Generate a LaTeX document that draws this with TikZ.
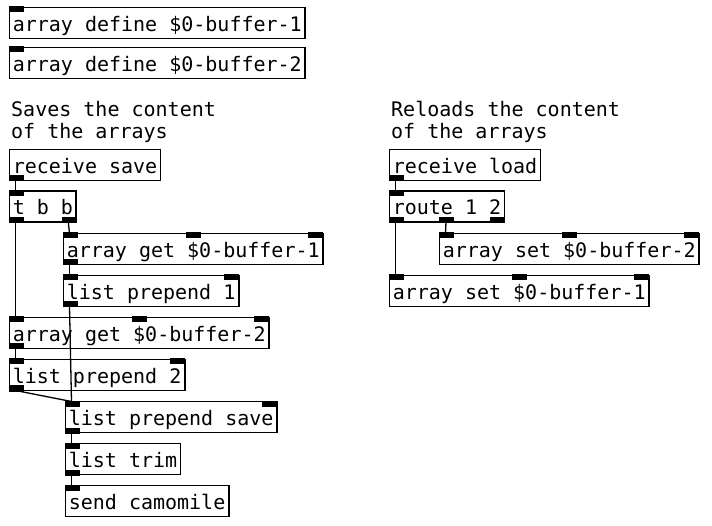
\documentclass[tikz,border=0pt]{standalone}
\usepackage{fontspec}
\newfontfamily\pdfont{DejaVu Sans Mono}
\usetikzlibrary{calc}

% inlets and outlets of a box: #1 box name, #2 inlets, #3 outlets
\newcommand{\pdio}[3]{%
  \ifnum#2>0
    \foreach \k in {1,...,#2}{
      \path let \p1=(#1.north west), \p2=(#1.north east),
        \n1={(\x2-\x1-14pt)*(\k-1)/max(#2-1,1)} in
        (\x1+\n1*1pt+6pt,\y1) coordinate (#1-in\k);
      \fill[iolet] (#1-in\k) ++(-6.5,-1) rectangle ++(15,6);
    }
  \fi
  \ifnum#3>0
    \foreach \k in {1,...,#3}{
      \path let \p1=(#1.south west), \p2=(#1.south east),
        \n1={(\x2-\x1-14pt)*(\k-1)/max(#3-1,1)} in
        (\x1+\n1*1pt+6pt,\y1) coordinate (#1-out\k);
      \fill[iolet] (#1-out\k) ++(-6.5,1) rectangle ++(15,-6);
    }
  \fi
}

\begin{document}
\begin{tikzpicture}
[
x=1pt,y=-1pt,
pdbox/.style={draw,line width=1.8pt,fill=white,anchor=north west,outer sep=0pt,
              inner xsep=3.3pt,inner ysep=0pt,minimum height=31pt,
              text height=18.3pt,text depth=1.7pt,font=\pdfont\fontsize{20}{22}\selectfont},
comment/.style={anchor=north west,inner sep=0pt,align=left,font=\pdfont\fontsize{20}{22}\selectfont},
wire/.style={line width=1.3pt},
iolet/.style={fill=black},
]
\useasboundingbox[fill=white] (0,0) rectangle (712,526);

%Place the nodes
\node[pdbox] (def1) at (9.5,7.5) {array define \$0-buffer-1};
\node[pdbox] (def2) at (9.5,47.5) {array define \$0-buffer-2};
\node[comment] (savenote) at (11,100.8) {Saves the content\\of the arrays};
\node[pdbox] (rsave) at (9.5,149.5) {receive save};
\node[pdbox] (tbb) at (9.5,191) {t b b};
\node[pdbox] (get1) at (63.5,233.5) {array get \$0-buffer-1};
\node[pdbox] (pre1) at (63.5,275.5) {list prepend 1};
\node[pdbox] (get2) at (9.5,317.5) {array get \$0-buffer-2};
\node[pdbox] (pre2) at (9.5,359.5) {list prepend 2};
\node[pdbox] (presave) at (65.5,401.5) {list prepend save};
\node[pdbox] (trim) at (65.5,443.5) {list trim};
\node[pdbox] (send) at (65.5,485.5) {send camomile};
\node[comment] (loadnote) at (391,100.8) {Reloads the content\\of the arrays};
\node[pdbox] (rload) at (389.5,149.5) {receive load};
\node[pdbox] (route) at (389.5,191) {route 1 2};
\node[pdbox] (set2) at (439.5,233.5) {array set \$0-buffer-2};
\node[pdbox] (set1) at (389.5,275.5) {array set \$0-buffer-1};

%Inlets and outlets
\pdio{def1}{1}{0}
\pdio{def2}{1}{0}
\pdio{rsave}{0}{1}
\pdio{tbb}{1}{2}
\pdio{get1}{3}{1}
\pdio{pre1}{2}{1}
\pdio{get2}{3}{1}
\pdio{pre2}{2}{1}
\pdio{presave}{2}{1}
\pdio{trim}{1}{1}
\pdio{send}{1}{0}
\pdio{rload}{0}{1}
\pdio{route}{1}{3}
\pdio{set2}{3}{0}
\pdio{set1}{3}{0}

%Draw the connections
\draw[wire] (rsave-out1) -- (tbb-in1);
\draw[wire] (tbb-out1) -- (get2-in1);
\draw[wire] (tbb-out2) -- (get1-in1);
\draw[wire] (get1-out1) -- (pre1-in1);
\draw[wire] (pre1-out1) -- (presave-in1);
\draw[wire] (get2-out1) -- (pre2-in1);
\draw[wire] (pre2-out1) -- (presave-in1);
\draw[wire] (presave-out1) -- (trim-in1);
\draw[wire] (trim-out1) -- (send-in1);
\draw[wire] (rload-out1) -- (route-in1);
\draw[wire] (route-out1) -- (set1-in1);
\draw[wire] (route-out2) -- (set2-in1);
\end{tikzpicture}
\end{document}
